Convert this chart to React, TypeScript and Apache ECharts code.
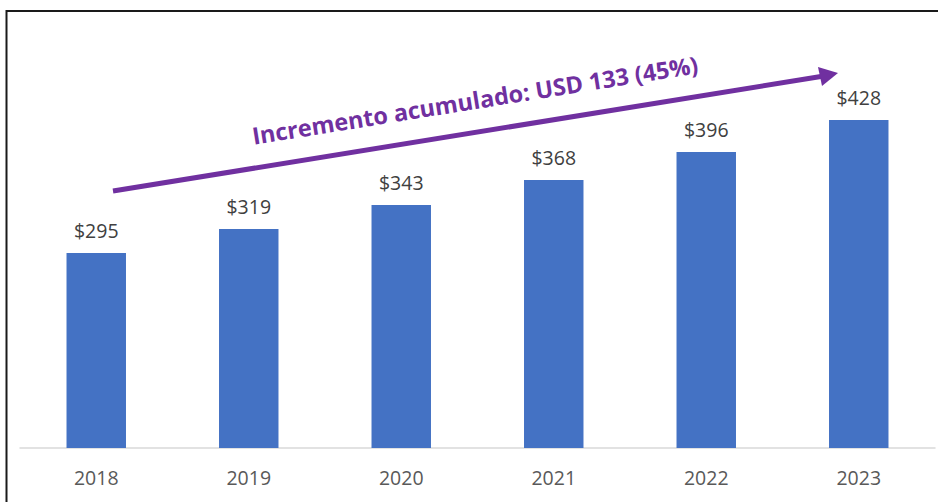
import React, { useEffect, useRef } from "react";
import * as echarts from "echarts";

const years = ["2018", "2019", "2020", "2021", "2022", "2023"];
const values = [295, 319, 343, 368, 396, 428];
const annotationText = "Incremento acumulado: USD 133 (45%)";

export default function App() {
  const ref = useRef<HTMLDivElement>(null);
  useEffect(() => {
    const chart = echarts.init(ref.current!, null, { renderer: "svg" });
    const font = "'Open Sans', 'Noto Sans', sans-serif";
    chart.setOption({
      animation: false,
      backgroundColor: "#ffffff",
      grid: { left: 20, right: 3, top: 98, bottom: 54 },
      xAxis: {
        type: "category",
        data: years,
        axisLine: { show: true, lineStyle: { color: "#d9d9d9", width: 1.5 } },
        axisTick: { show: false },
        axisLabel: { color: "#595959", fontSize: 19.5, fontFamily: font, margin: 19 },
      },
      yAxis: {
        type: "value",
        min: 100,
        max: 450,
        show: false,
        splitLine: { show: false },
      },
      series: [
        {
          type: "bar",
          data: values,
          barWidth: "39%",
          itemStyle: { color: "#4472C4" },
          label: {
            show: true,
            position: "top",
            distance: 13,
            formatter: (p: any) => "$" + p.value,
            color: "#404040",
            fontSize: 19.5,
            fontFamily: font,
          },
        },
      ],
      graphic: [
        {
          type: "rect",
          shape: { x: 6.5, y: 11, width: 960, height: 520 },
          style: { fill: "none", stroke: "#1a1a1a", lineWidth: 2 },
          silent: true,
        },
        {
          type: "line",
          shape: { x1: 113, y1: 191, x2: 824, y2: 76 },
          style: { stroke: "#7030A0", lineWidth: 5 },
          silent: true,
        },
        {
          type: "polygon",
          shape: { points: [[838, 73], [818, 67], [822, 86]] },
          style: { fill: "#7030A0" },
          silent: true,
        },
        {
          type: "text",
          x: 475,
          y: 100,
          rotation: 0.16,
          style: {
            text: annotationText,
            fill: "#7030A0",
            font: "bold 23.5px 'Open Sans', 'Noto Sans', sans-serif",
            align: "center",
            verticalAlign: "middle",
          },
          silent: true,
        },
      ],
    });
    return () => chart.dispose();
  }, []);
  return (
    <div
      ref={ref}
      style={{ position: "fixed", left: 0, top: 0, width: 938, height: 502 }}
    />
  );
}
